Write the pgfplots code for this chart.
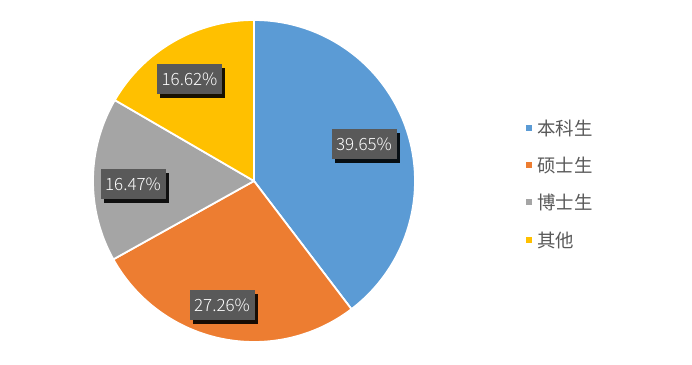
\documentclass[border=0pt]{standalone}
\usepackage{pgfplots}
\pgfplotsset{compat=1.18}
\usepackage{fontspec}
\setmainfont{Noto Sans CJK SC}
\newfontfamily\lightfont{Noto Sans CJK SC Light}
\usetikzlibrary{shadows}
\definecolor{cA}{HTML}{5B9BD5}
\definecolor{cB}{HTML}{ED7D31}
\definecolor{cC}{HTML}{A5A5A5}
\definecolor{cD}{HTML}{FFC000}
\definecolor{lbl}{HTML}{595959}
\definecolor{txt}{HTML}{595959}
\begin{document}
\begin{tikzpicture}
\begin{axis}[width=692bp,height=365bp,scale only axis,
  xmin=0,xmax=692,ymin=0,ymax=365,hide axis,clip=false]
\path (axis cs:0,0) rectangle (axis cs:692,365);
% values: 39.65, 27.26, 16.47, 16.62 (percent), clockwise from top
\addplot[fill=cA,draw=white,line width=1.8bp,line join=round,domain={90}:{90-3.6*39.65},samples=120,variable=\t]
  ({254+161*cos(t)},{184+161*sin(t)}) -- (axis cs:254,184) -- cycle;
\addplot[fill=cB,draw=white,line width=1.8bp,line join=round,domain={90-3.6*39.65}:{90-3.6*(39.65+27.26)},samples=100,variable=\t]
  ({254+161*cos(t)},{184+161*sin(t)}) -- (axis cs:254,184) -- cycle;
\addplot[fill=cC,draw=white,line width=1.8bp,line join=round,domain={90-3.6*(39.65+27.26)}:{90-3.6*(39.65+27.26+16.47)},samples=60,variable=\t]
  ({254+161*cos(t)},{184+161*sin(t)}) -- (axis cs:254,184) -- cycle;
\addplot[fill=cD,draw=white,line width=1.8bp,line join=round,domain={90-3.6*(39.65+27.26+16.47)}:{-270},samples=60,variable=\t]
  ({254+161*cos(t)},{184+161*sin(t)}) -- (axis cs:254,184) -- cycle;
\tikzset{lab/.style={fill=lbl,text=white,minimum width=65bp,minimum height=30bp,inner sep=0pt,
  drop shadow={shadow xshift=3bp,shadow yshift=-4bp,opacity=0.9,fill=black},
  font=\lightfont\fontsize{17}{17}\selectfont}}
\node[lab] at (axis cs:364,221) {39.65\%};
\node[lab] at (axis cs:222,60) {27.26\%};
\node[lab] at (axis cs:133,181) {16.47\%};
\node[lab] at (axis cs:189.5,285.5) {16.62\%};
\tikzset{leg/.style={anchor=west,text=txt,inner sep=0pt,font=\fontsize{18.5}{19}\selectfont}}
\node[fill=cA,minimum size=6bp,inner sep=0pt] at (axis cs:529,237) {};
\node[leg] at (axis cs:537,237) {本科生};
\node[fill=cB,minimum size=6bp,inner sep=0pt] at (axis cs:529,200) {};
\node[leg] at (axis cs:537,200) {硕士生};
\node[fill=cC,minimum size=6bp,inner sep=0pt] at (axis cs:529,163) {};
\node[leg] at (axis cs:537,163) {博士生};
\node[fill=cD,minimum size=6bp,inner sep=0pt] at (axis cs:529,125) {};
\node[leg] at (axis cs:537,125) {其他};
\end{axis}
\end{tikzpicture}
\end{document}
